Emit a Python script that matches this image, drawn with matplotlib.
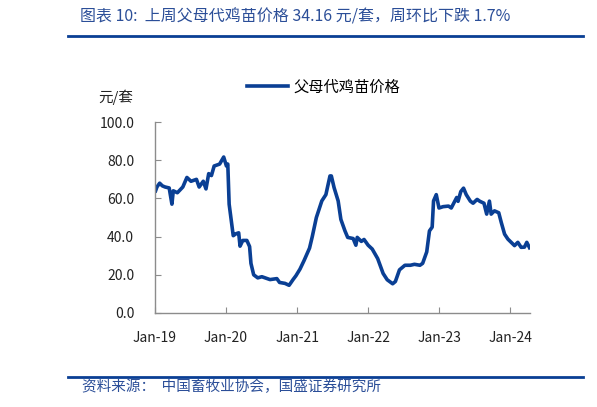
import numpy as np
import pandas as pd
import matplotlib
matplotlib.use("Agg")
import matplotlib.pyplot as plt
import matplotlib.dates as mdates
from matplotlib.lines import Line2D

plt.rcParams["font.family"] = ["Noto Sans CJK SC", "DejaVu Sans"]

# Datos (aprox.)
fechas = [
    "2019-01-04", "2019-01-11", "2019-01-25", "2019-02-08", "2019-02-22", "2019-03-15",
    "2019-03-29", "2019-04-05", "2019-04-26", "2019-05-24", "2019-06-14", "2019-07-05",
    "2019-08-02", "2019-08-16", "2019-09-06", "2019-09-20", "2019-10-04", "2019-10-18",
    "2019-11-01", "2019-11-29", "2019-12-20", "2020-01-03", "2020-01-10", "2020-01-17",
    "2020-02-07", "2020-02-21", "2020-03-06", "2020-03-13", "2020-03-27", "2020-04-17",
    "2020-05-01", "2020-05-08", "2020-05-22", "2020-06-12", "2020-07-03", "2020-07-17",
    "2020-08-14", "2020-09-18", "2020-10-02", "2020-10-30", "2020-11-20", "2020-12-11",
    "2020-12-25", "2021-01-15", "2021-02-05", "2021-03-05", "2021-03-19", "2021-04-09",
    "2021-05-07", "2021-05-28", "2021-06-18", "2021-06-25", "2021-07-09", "2021-07-30",
    "2021-08-13", "2021-09-03", "2021-09-17", "2021-10-15", "2021-10-29", "2021-11-05",
    "2021-11-26", "2021-12-10", "2021-12-31", "2022-01-21", "2022-02-18", "2022-03-18",
    "2022-04-08", "2022-05-06", "2022-05-20", "2022-06-10", "2022-07-08", "2022-08-05",
    "2022-08-26", "2022-09-23", "2022-10-07", "2022-10-28", "2022-11-11", "2022-11-25",
    "2022-12-02", "2022-12-16", "2022-12-30", "2023-01-20", "2023-02-17", "2023-03-03",
    "2023-03-31", "2023-04-07", "2023-04-21", "2023-05-05", "2023-05-19", "2023-06-09",
    "2023-06-23", "2023-07-14", "2023-07-28", "2023-08-18", "2023-09-01", "2023-09-15",
    "2023-09-24", "2023-10-11", "2023-11-02", "2023-11-15", "2023-12-02", "2023-12-19",
    "2024-01-05", "2024-01-22", "2024-02-08", "2024-02-25", "2024-03-13", "2024-03-25",
    "2024-04-08",
]
precios = [
    64.0, 66.0, 68.0, 66.6, 66.0, 65.5,
    57.0, 64.0, 63.0, 66.0, 71.0, 69.0,
    70.0, 66.0, 69.0, 65.0, 73.0, 72.0,
    77.0, 78.0, 81.7, 77.0, 78.0, 57.0,
    40.5, 41.5, 42.0, 35.0, 38.0, 38.0,
    34.8, 26.0, 20.0, 18.4, 19.0, 18.5,
    17.5, 18.0, 16.0, 15.5, 14.5, 17.6,
    19.5, 23.0, 27.5, 34.0, 40.0, 50.0,
    58.7, 62.0, 71.8, 71.8, 65.7, 58.7,
    49.0, 43.0, 39.6, 39.0, 35.5, 39.6,
    37.5, 38.5, 35.5, 33.5, 28.5, 20.7,
    17.4, 15.3, 16.5, 22.6, 25.0, 25.0,
    25.5, 25.0, 26.0, 32.0, 43.0, 45.0,
    58.7, 62.0, 55.0, 55.7, 56.0, 55.0,
    60.5, 58.5, 63.6, 65.4, 62.0, 58.6,
    57.5, 59.5, 58.5, 57.5, 51.8, 58.6,
    51.8, 53.5, 52.5, 47.4, 41.3, 38.7,
    37.0, 35.3, 37.0, 34.4, 34.5, 37.0,
    34.2,
]
serie = "父母代鸡苗价格"
unidad = "元/套"
titulo = "图表 10:  上周父母代鸡苗价格 34.16 元/套，周环比下跌 1.7%"
fuente = "资料来源：  中国畜牧业协会，国盛证券研究所"

AZUL = "#0A3F94"
TXT_AZUL = "#2B4E98"

x = pd.to_datetime(fechas)

fig = plt.figure(figsize=(5.97, 4.07), dpi=100)
fig.patch.set_facecolor("white")
ax = fig.add_axes([0.2596, 0.231, 0.628, 0.469])

ax.plot(x, precios, color=AZUL, lw=2.6, label=serie, solid_joinstyle="round")

ax.set_ylim(0, 100)
ax.set_yticks(np.arange(0, 101, 20))
ax.yaxis.set_major_formatter(matplotlib.ticker.FormatStrFormatter("%.1f"))
ax.set_xlim(pd.Timestamp("2019-01-01"), pd.Timestamp("2024-04-10"))
ax.xaxis.set_major_locator(mdates.YearLocator())
ax.xaxis.set_major_formatter(mdates.DateFormatter("%b-%y"))

for s in ["top", "right"]:
    ax.spines[s].set_visible(False)
for s in ["left", "bottom"]:
    ax.spines[s].set_color("#8C8C8C")
    ax.spines[s].set_linewidth(1.0)
ax.tick_params(axis="both", direction="in", length=4, color="#8C8C8C",
               labelsize=10, labelcolor="#222222")
ax.tick_params(axis="x", pad=13)
ax.tick_params(axis="y", pad=15)

ax.legend(loc="center", bbox_to_anchor=(323.5 / 597, 1 - 87 / 407),
          bbox_transform=fig.transFigure, frameon=False,
          fontsize=11, handlelength=2.7, handletextpad=0.3)

fig.text(116 / 597, 1 - 97 / 407, unidad, fontsize=10.5, ha="center", va="center",
         color="#222222")

# Título y reglas
fig.text(0.134, 0.958, titulo, fontsize=11.5, color=TXT_AZUL, style="italic",
         ha="left", va="center")
fig.add_artist(Line2D([0.114, 0.977], [0.912, 0.912], color=AZUL, lw=2.0))
fig.add_artist(Line2D([0.114, 0.977], [0.074, 0.074], color=AZUL, lw=2.0))
fig.text(0.137, 0.049, fuente, fontsize=10.5, color=TXT_AZUL, style="italic",
         ha="left", va="center")

fig.savefig("out.png", dpi=100)
